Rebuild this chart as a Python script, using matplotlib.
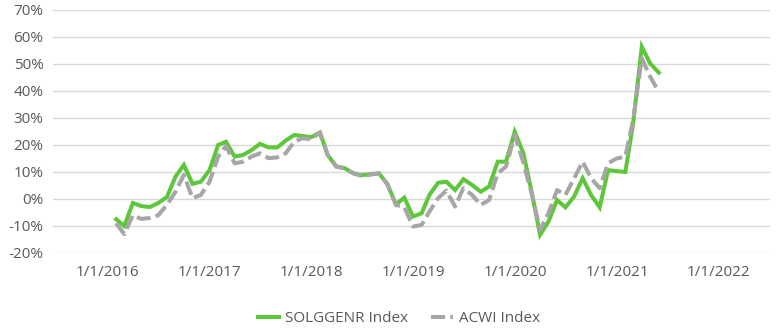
import matplotlib
matplotlib.use("Agg")
import matplotlib.pyplot as plt
import matplotlib.dates as mdates
from matplotlib.ticker import FuncFormatter, MultipleLocator
import pandas as pd

# month-end dates, Jan 2016 .. May 2021
dates = pd.date_range("2016-01-31", periods=65, freq="ME")

# trailing 12-month returns (%)
solggenr = [
    -7.5, -10.0, -1.5, -2.6, -3.0, -1.5, 0.7, 8.3, 12.6, 5.6, 6.4, 10.7,
    20.0, 21.2, 15.7, 16.3, 18.1, 20.4, 19.1, 19.1, 21.6, 23.7, 23.3, 22.9,
    24.6, 16.3, 12.0, 11.4, 9.5, 8.8, 9.2, 9.5, 5.5, -2.0, 0.5, -6.5,
    -5.3, 1.5, 6.0, 6.4, 3.3, 7.3, 5.2, 2.7, 4.6, 13.8, 13.8, 24.9,
    17.0, 3.0, -13.3, -8.4, -0.4, -3.1, 0.9, 7.7, 1.5, -3.1, 10.7, 10.3,
    10.0, 28.0, 56.4, 50.2, 46.8,
]
acwi = [
    -9.0, -13.0, -6.0, -7.4, -7.0, -6.0, -2.2, 2.7, 8.9, 0.3, 1.5, 6.4,
    15.7, 19.6, 13.2, 13.8, 15.7, 16.9, 15.1, 15.4, 16.9, 21.2, 22.5, 22.1,
    24.6, 16.3, 12.0, 11.4, 9.5, 8.5, 9.0, 9.5, 5.5, -2.2, -3.0, -10.2,
    -9.6, -4.7, 0.3, 3.1, -2.8, 4.0, 1.5, -2.2, -0.4, 9.5, 12.0, 23.7,
    13.5, 2.3, -11.5, -5.3, 3.3, 1.5, 7.6, 13.8, 7.7, 4.0, 13.2, 15.0,
    15.7, 29.3, 52.1, 45.3, 39.7,
]
tick_years = [2016, 2017, 2018, 2019, 2020, 2021, 2022]

plt.rcParams['font.family'] = ['Open Sans', 'DejaVu Sans']
txt = '#595959'

fig = plt.figure(figsize=(7.82, 3.32), dpi=100)
ax = fig.add_axes([0.068, 0.238, 0.917, 0.732])

ax.plot(dates, solggenr, color='#5ec63a', lw=2.9, label='SOLGGENR Index',
        solid_joinstyle='miter', zorder=3)
ax.plot(dates, acwi, color='#a6a6a6', lw=2.9, dashes=(3.5, 1.3),
        label='ACWI Index', zorder=4)

ax.set_ylim(-20, 70)
ax.yaxis.set_major_locator(MultipleLocator(10))
ax.yaxis.set_major_formatter(FuncFormatter(lambda v, p: f"{v:.0f}%"))

ax.set_xlim(pd.Timestamp("2015-06-19"), pd.Timestamp("2022-07-05"))
ticks = [pd.Timestamp(f"{y}-01-01") for y in tick_years]
ax.set_xticks(ticks)
ax.xaxis.set_major_formatter(FuncFormatter(
    lambda v, p: (lambda d: f"{d.month}/{d.day}/{d.year}")(mdates.num2date(v))))

ax.grid(axis='y', color='#d9d9d9', lw=1)
ax.set_axisbelow(True)
for s in ax.spines.values():
    s.set_visible(False)
ax.tick_params(length=0, labelsize=11, colors=txt)
ax.tick_params(axis='x', pad=9)
ax.tick_params(axis='y', pad=7)

fig.legend(loc='center', bbox_to_anchor=(0.51, 0.04), ncol=2, frameon=False,
           fontsize=11, labelcolor=txt, handlelength=1.4, columnspacing=1.5,
           handletextpad=0.4)

fig.savefig('out.png', dpi=100)
